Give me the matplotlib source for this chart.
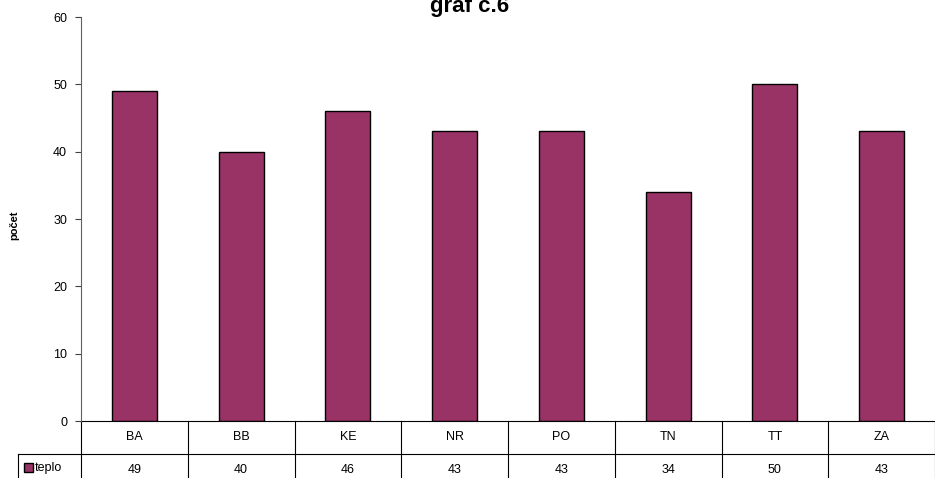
import matplotlib.pyplot as plt
from matplotlib.patches import Rectangle
import matplotlib.transforms as mtransforms

plt.rcParams['font.family'] = ['Liberation Sans', 'DejaVu Sans']

regions = ['BA', 'BB', 'KE', 'NR', 'PO', 'TN', 'TT', 'ZA']
teplo = [49, 40, 46, 43, 43, 34, 50, 43]
series_name = 'teplo'
bar_color = '#993366'

W, H = 935, 478
fig = plt.figure(figsize=(W / 100, H / 100), dpi=100)
ax = fig.add_axes([81 / W, 1 - 421 / H, (935 - 81) / W, (421 - 17) / H])

x = list(range(len(regions)))
ax.bar(x, teplo, width=0.42, color=bar_color, edgecolor='black', linewidth=1)

ax.set_xlim(-0.5, len(regions) - 0.5)
ax.set_ylim(0, 60)
ax.set_yticks(range(0, 61, 10))
ax.tick_params(axis='y', direction='out', length=4, labelsize=9, pad=6, color='#404040')
ax.set_xticks([])
for s in ['top', 'right', 'bottom']:
    ax.spines[s].set_visible(False)
ax.spines['left'].set_color('#606060')

# title sits partly above the top edge, as in the source
fig.text(470 / W, 1 - 12 / H, 'graf c.6', fontsize=16, fontweight='bold',
         ha='center', va='baseline')
fig.text(14 / W, 1 - 225 / H, 'počet', rotation=90, fontsize=8, fontweight='bold',
         ha='center', va='center')

# data table below the axes
trans = mtransforms.blended_transform_factory(ax.transData, ax.transAxes)
row_h = 33 / 404
lw = 0.8
ax.plot([-0.5, len(regions) - 0.5], [0, 0], transform=trans, color='black', lw=lw, clip_on=False)
ax.plot([-0.5 - 63 / 106.75, len(regions) - 0.5], [-row_h, -row_h], transform=trans,
        color='black', lw=lw, clip_on=False)
for i in range(len(regions) + 1):
    ax.plot([i - 0.5, i - 0.5], [0, -0.2], transform=trans, color='black', lw=lw, clip_on=False)
ax.plot([-0.5 - 63 / 106.75] * 2, [-row_h, -0.2], transform=trans, color='black', lw=lw,
        clip_on=False)
for i, (r, v) in enumerate(zip(regions, teplo)):
    ax.text(i, -row_h / 2, r, transform=trans, ha='center', va='center', fontsize=9)
    ax.text(i, -row_h - 16 / 404, str(v), transform=trans, ha='center', va='center', fontsize=9)

fig.patches.append(Rectangle((24 / W, 1 - 472 / H), 9 / W, 9 / H, transform=fig.transFigure,
                             facecolor=bar_color, edgecolor='black', linewidth=1))
fig.text(35 / W, 1 - 468 / H, series_name, fontsize=9, ha='left', va='center')

fig.savefig('out.png', dpi=100)
